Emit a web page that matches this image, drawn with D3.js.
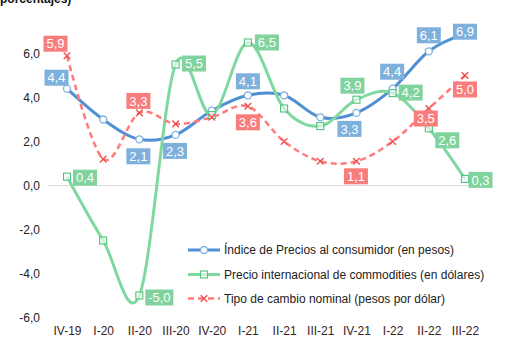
<!DOCTYPE html>
<html><head><meta charset="utf-8">
<script src="https://cdn.jsdelivr.net/npm/d3@7"></script>
<style>body{margin:0;background:#fff}svg{display:block;font-family:"Liberation Sans",Arial,sans-serif}</style>
</head><body><svg id="c" width="509" height="347"></svg>
<script>
const categories=["IV-19","I-20","II-20","III-20","IV-20","I-21","II-21","III-21","IV-21","I-22","II-22","III-22"];
const ipc=[4.4,3.0,2.1,2.3,3.4,4.1,4.1,3.1,3.3,4.4,6.1,6.9];
const commodities=[0.4,-2.5,-5.0,5.5,3.2,6.5,3.5,2.7,3.9,4.2,2.6,0.3];
const tipoCambio=[5.9,1.2,3.3,2.8,3.1,3.6,2.0,1.1,1.1,2.0,3.5,5.0];
const yTicks=[-6,-4,-2,0,2,4,6];
const seriesNames=["Índice de Precios al consumidor (en pesos)","Precio internacional de commodities (en dólares)","Tipo de cambio nominal (pesos por dólar)"];
// labelled points: index into categories
const ipcLabelIdx=[0,2,3,5,8,9,10,11];
const comLabelIdx=[0,2,3,5,8,9,10,11];
const tcLabelIdx=[0,2,5,8,10,11];

// label box offsets (style)
const ipcOff=[[-10.5,-11],[-1,17],[-0.5,16],[0,-14],[-7,16],[-0.5,-17],[0,-16],[0,-2]];
const comOff=[[18,1],[20,2],[18.5,-1],[19,0],[-4,-14],[18,-0.5],[18.5,12],[15.5,1]];
const tcOff=[[-11.5,-12],[-1,-12],[0,16],[-0.5,15],[-3,10],[0,14]];

const svg=d3.select("#c");
const x=d3.scalePoint().domain(categories).range([67,465]);
const y=d3.scaleLinear().domain([-6,8]).range([317.5,9.5]);
const fmt=v=>d3.format(".1f")(v).replace(".",",").replace("−","-");

const C={ipc:"#4f8fd3",ipcBox:"#7eb0dc",com:"#7fd8a0",comBox:"#80d39d",tc:"#ff7a7a",tcBox:"#f97d7d"};

// title fragment
svg.append("text").attr("x",0).attr("y",3).attr("font-size",12).attr("font-weight","bold").attr("fill","#111").text("porcentajes)");

// zero line
svg.append("line").attr("x1",48).attr("x2",483).attr("y1",y(0)).attr("y2",y(0)).attr("stroke","#d9d9d9").attr("stroke-width",1);

// y axis
const yAxis=d3.axisLeft(y).tickValues(yTicks).tickFormat(fmt).tickSize(0).tickPadding(0);
const ga=svg.append("g").attr("transform","translate(40,0)").call(yAxis);
ga.select(".domain").remove();
ga.selectAll("text").attr("font-size",12).attr("fill","#222").attr("font-family","Liberation Sans,Arial,sans-serif");

// x axis
const xAxis=d3.axisBottom(x).tickSize(0).tickPadding(0);
const gx=svg.append("g").attr("transform","translate(0,326)").call(xAxis);
gx.select(".domain").remove();
gx.selectAll("text").attr("font-size",12).attr("fill","#3a2222").attr("font-family","Liberation Sans,Arial,sans-serif");

const line=d3.line().x((d,i)=>x(categories[i])).y(d=>y(d)).curve(d3.curveCatmullRom.alpha(0));

svg.append("path").datum(ipc).attr("d",line).attr("fill","none").attr("stroke",C.ipc).attr("stroke-width",3);
svg.append("path").datum(commodities).attr("d",line).attr("fill","none").attr("stroke",C.com).attr("stroke-width",3);
svg.append("path").datum(tipoCambio).attr("d",line).attr("fill","none").attr("stroke",C.tc).attr("stroke-width",2.5).attr("stroke-dasharray","6,4");

// markers
svg.selectAll(".m1").data(ipc).enter().append("circle").attr("cx",(d,i)=>x(categories[i])).attr("cy",d=>y(d)).attr("r",3.5).attr("fill","#fff").attr("stroke",C.ipcBox).attr("stroke-width",1.3);
svg.selectAll(".m2").data(commodities).enter().append("rect").attr("x",(d,i)=>x(categories[i])-3.5).attr("y",d=>y(d)-3.5).attr("width",7).attr("height",7).attr("fill","#fff").attr("fill-opacity",0.6).attr("stroke","#4fc47c").attr("stroke-width",1.1);
const cross=d3.symbol().type(d3.symbolX).size(30);
svg.selectAll(".m3").data(tipoCambio).enter().append("path").attr("d",cross).attr("transform",(d,i)=>`translate(${x(categories[i])},${y(d)})`).attr("fill","none").attr("stroke","#f05050").attr("stroke-width",1.4);

function labels(vals,idx,offs,col){
  idx.forEach((i,k)=>{
    const cx=x(categories[i])+offs[k][0], cy=y(vals[i])+offs[k][1];
    const w=vals[i]<0?28:24, h=16;
    svg.append("rect").attr("x",cx-w/2).attr("y",cy-h/2).attr("width",w).attr("height",h).attr("fill",col);
    svg.append("text").attr("x",cx).attr("y",cy+4.7).attr("text-anchor","middle").attr("font-size",13).attr("fill","#fff").text(fmt(vals[i]));
  });
}
labels(ipc,ipcLabelIdx,ipcOff,C.ipcBox);
labels(commodities,comLabelIdx,comOff,C.comBox);
labels(tipoCambio,tcLabelIdx,tcOff,C.tcBox);

// legend
const leg=[{c:C.ipc,w:3,dash:null,m:"c"},{c:C.com,w:3,dash:null,m:"s"},{c:C.tc,w:2.5,dash:"6,4",m:"x"}];
const ly=[250,274.5,298.5];
leg.forEach((l,i)=>{
  const g=svg.append("g");
  g.append("line").attr("x1",188).attr("x2",220).attr("y1",ly[i]).attr("y2",ly[i]).attr("stroke",l.c).attr("stroke-width",l.w).attr("stroke-dasharray",l.dash);
  if(l.m==="c") g.append("circle").attr("cx",204).attr("cy",ly[i]).attr("r",3.5).attr("fill","#fff").attr("stroke",C.ipcBox).attr("stroke-width",1.3);
  if(l.m==="s") g.append("rect").attr("x",200.5).attr("y",ly[i]-3.5).attr("width",7).attr("height",7).attr("fill","#fff").attr("fill-opacity",0.6).attr("stroke","#4fc47c").attr("stroke-width",1.1);
  if(l.m==="x") g.append("path").attr("d",cross).attr("transform",`translate(204,${ly[i]})`).attr("fill","none").attr("stroke","#f05050").attr("stroke-width",1.4);
  g.append("text").attr("x",224).attr("y",ly[i]+4.3).attr("font-size",12).attr("fill","#222").text(seriesNames[i]);
});
</script></body></html>
